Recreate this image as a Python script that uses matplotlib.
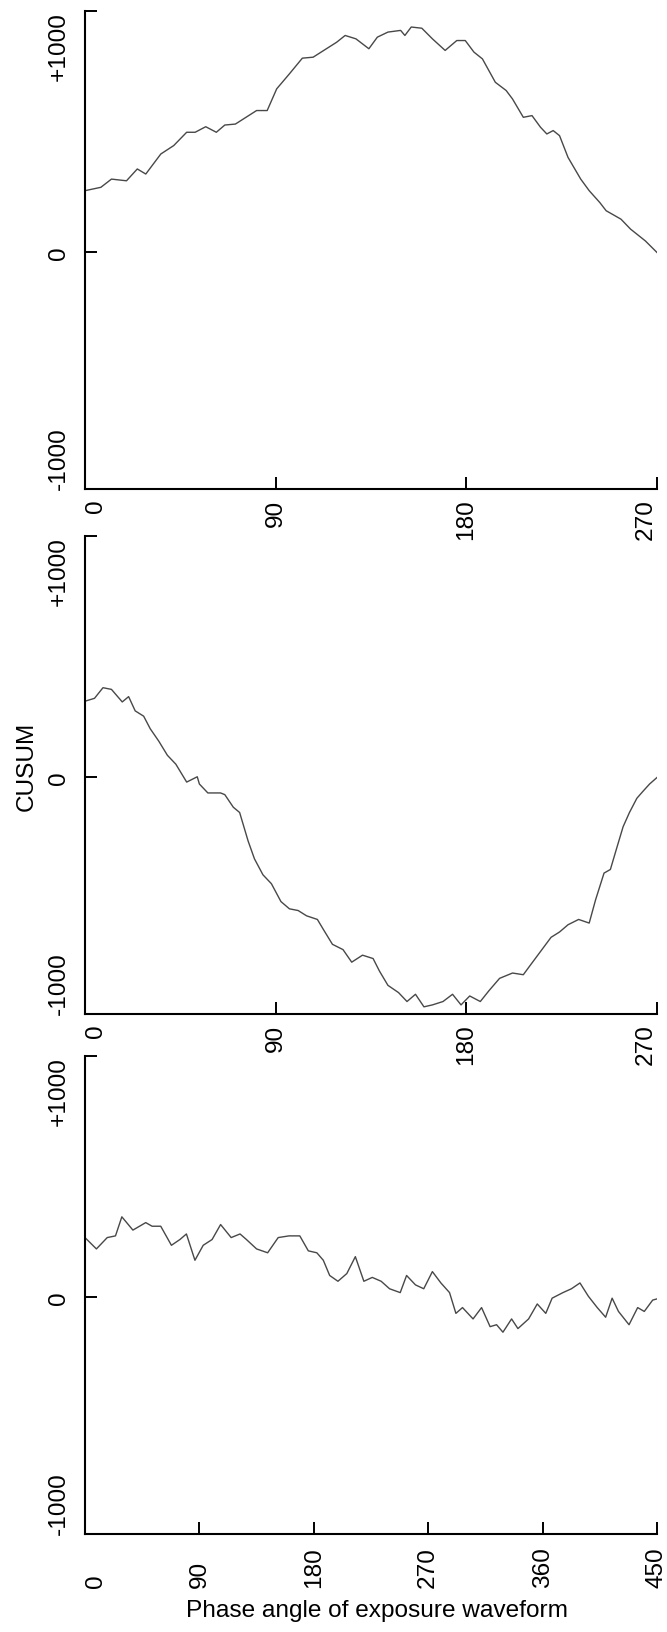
"""
CUSUM of response against phase angle of the exposure waveform,
three stacked panels (two 0-270 deg runs and one 0-450 deg run).
Saves out.png.
"""

import matplotlib
matplotlib.use("Agg")
import matplotlib.pyplot as plt

plt.rcParams['font.family'] = ['Liberation Sans', 'DejaVu Sans']
plt.rcParams['font.size'] = 17.6

# ---------------------------------------------------------------
# DATA (degrees / CUSUM units)
# ---------------------------------------------------------------
phase_top = [0, 7.5, 12.5, 19.6, 24.7, 28.7, 35.8, 41.9, 48, 52, 57, 62, 66, 71,
             76, 81, 86, 90.5, 96.5, 102.6, 107.7, 112.7, 118.8, 122.8, 127.9,
             134, 138, 143, 149, 151, 154, 159, 164, 170, 175.5, 179.5, 183.6,
             187.6, 193.7, 198.8, 201.8, 206.9, 211, 215, 218, 221, 224, 228,
             234, 238, 243, 246, 253, 257.5, 264.5, 270]
cusum_top = [256, 270, 304, 297, 346, 325, 408, 443, 498, 498, 521, 498, 528, 532,
             560, 588, 588, 678, 740, 805, 809, 837, 871, 899, 885,
             844, 892, 913, 920, 899, 934, 929, 885, 837, 878, 878, 830,
             802, 705, 671, 636, 560, 567, 519, 491, 505, 484, 394,
             304, 256, 207, 173, 138, 97, 48, 0]

phase_mid = [0, 4.5, 8.5, 12.5, 17.6, 20.6, 23.7, 27.7, 30.8, 34.8, 38.9, 42.9,
             48, 53, 54, 58, 64, 66, 70, 73, 77, 80, 84, 88, 92.5, 96.5, 100.6,
             104.6, 109.7, 112.7, 116.8, 121.8, 125.9, 131, 136, 139, 143, 148,
             152, 156, 160, 164, 169, 173.5, 177.5, 181.6, 186.6, 190.7, 195.7,
             201.8, 206.9, 210, 215, 220, 224, 228, 233, 238, 241, 245, 248,
             251, 254, 257, 260.5, 263.5, 266.5, 270]
cusum_mid = [316, 328, 372, 365, 313, 335, 276, 254, 202, 151, 92, 55,
             -19, 3, -27, -64, -64, -71, -123, -145, -263, -337, -403, -440,
             -514, -544, -551, -573, -588, -632, -691, -713, -765, -736, -750,
             -802, -861, -891, -928, -898, -950, -942, -928, -898, -942, -905,
             -928, -883, -832, -810, -817, -780, -721, -662, -640, -610, -588,
             -603, -507, -396, -381, -292, -204, -145, -86, -56, -27, 0]

phase_bot = [0, 9, 17.5, 24, 29, 37.7, 47.8, 52.8, 59.6, 68, 74.7, 79.8, 86.5,
             93, 100, 106.7, 115, 122, 127, 135, 143.7, 152, 160.5, 169, 175.7,
             182.4, 187.5, 192.5, 199, 206, 212.7, 219.4, 226, 233, 239.6, 248,
             253, 260, 266.5, 273.3, 280, 286.8, 291.8, 297, 305.3, 312, 318.7,
             323.8, 328.8, 335.6, 340.6, 349, 355.8, 362.5, 367.5, 376, 382.7,
             389.4, 396, 403, 409.6, 414.7, 419.7, 428, 434.8, 440, 446.6, 450]
cusum_bot = [248, 201, 248, 255, 334, 279, 310, 295, 295, 216, 240, 263, 154,
             216, 240, 302, 248, 263, 240, 201, 185, 248, 255, 255, 193,
             185, 154, 91, 67, 99, 169, 67, 83, 67, 36, 20,
             91, 52, 36, 107, 60, 20, -66, -42, -89, -42, -121,
             -113, -144, -89, -129, -89, -27, -66, -3, 20, 36,
             60, 5, -42, -82, -3, -58, -113, -42, -58, -11, -6]

panels = [
    (phase_top, cusum_top, [0, 90, 180, 270]),
    (phase_mid, cusum_mid, [0, 90, 180, 270]),
    (phase_bot, cusum_bot, [0, 90, 180, 270, 360, 450]),
]

y_low, y_high = -980, 1000
y_labels = ['-1000', '0', '+1000']

# ---------------------------------------------------------------
# PLOT
# ---------------------------------------------------------------
fig = plt.figure(figsize=(6.67, 16.33), dpi=100)

# axes boxes in figure fractions (left, bottom, width, height)
boxes = [
    (0.1274, 0.6999, 0.8576, 0.2927),
    (0.1274, 0.3784, 0.8576, 0.2927),
    (0.1274, 0.0600, 0.8576, 0.2927),
]

axes = []
for i, (box, (phase, cusum, xt)) in enumerate(zip(boxes, panels)):
    ax = fig.add_axes(box)
    # no white patch, so the rotated tick labels of the panel above aren't hidden
    ax.patch.set_visible(False)
    ax.plot(phase, cusum, color='#484848', lw=1.0)

    ax.set_xlim(0, xt[-1])
    ax.set_ylim(y_low, y_high)
    for side in ('top', 'right'):
        ax.spines[side].set_visible(False)
    for side in ('left', 'bottom'):
        ax.spines[side].set_linewidth(1.5)

    ax.set_yticks([y_low, 0, y_high])
    ax.set_yticklabels(y_labels, rotation=90)
    ax.tick_params(axis='y', direction='in', length=8.5, width=1.4, pad=10.8)
    for lab, va in zip(ax.get_yticklabels(), ['bottom', 'center', 'top']):
        lab.set_va(va)
        lab.set_ha('right')

    ax.set_xticks(xt)
    ax.set_xticklabels([str(v) for v in xt], rotation=90)
    if i < 2:
        ax.tick_params(axis='x', direction='in', length=8.5, width=1.4, pad=6.8)
        xl = ax.get_xticklabels()
        xl[0].set_ha('left')
        xl[-1].set_ha('right')
    else:
        ax.tick_params(axis='x', direction='in', length=8.5, width=1.4, pad=38)
        for lab in ax.get_xticklabels():
            lab.set_va('bottom')
        ax.get_xticklabels()[0].set_ha('left')
    axes.append(ax)

axes[1].set_ylabel('CUSUM')
axes[1].yaxis.set_label_coords(-0.083, 0.52)

axes[2].set_xlabel('Phase angle of exposure waveform')
axes[2].xaxis.set_label_coords(0.51, -0.136)

fig.savefig('out.png', dpi=100)
plt.close(fig)
